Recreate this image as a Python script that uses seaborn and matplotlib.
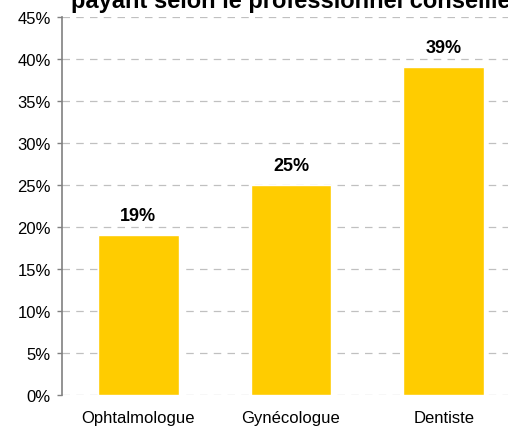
import matplotlib
matplotlib.use("Agg")
import matplotlib.pyplot as plt
import seaborn as sns
import pandas as pd
from matplotlib.ticker import FuncFormatter, MultipleLocator

categories = ["Ophtalmologue", "Gynécologue", "Dentiste"]
values = [19, 25, 39]
labels = ["19%", "25%", "39%"]
title = "payant selon le professionnel conseillé"

sns.set_theme(style="white")
plt.rcParams['font.family'] = ['Liberation Sans', 'DejaVu Sans']

df = pd.DataFrame({"cat": categories, "val": values})

fig = plt.figure(figsize=(5.08, 4.27), dpi=100)
W, H = 508, 427
ax = fig.add_axes([62 / W, 1 - 396 / H, 458 / W, (396 - 18) / H])

sns.barplot(data=df, x="cat", y="val", color="#FFCC00", width=0.53,
            saturation=1, ax=ax, zorder=3)
ax.set_xlim(-0.5, 2.5)
ax.set_ylim(0, 45)
ax.yaxis.set_major_locator(MultipleLocator(5))
ax.yaxis.set_major_formatter(FuncFormatter(lambda v, p: f"{v:.0f}%"))
ax.grid(axis="y", color="#C0C0C0", linestyle=(0, (6, 5)), linewidth=0.9, zorder=0)
for s in ["top", "right", "bottom"]:
    ax.spines[s].set_visible(False)
ax.spines["left"].set_color("#808080")
ax.spines["left"].set_linewidth(1.2)
ax.tick_params(axis="y", left=True, length=3.6, width=1, color="#808080",
               labelsize=12, labelcolor="black", pad=4.5)
ax.tick_params(axis="x", bottom=False, labelsize=12, labelcolor="black", pad=5)
ax.set_xlabel("")
ax.set_ylabel("")

for p, lab in zip(ax.patches, labels):
    ax.text(p.get_x() + p.get_width() / 2, p.get_height() + 1.3, lab,
            ha="center", va="bottom", fontsize=13, fontweight="bold", color="black")

fig.text(291 / W, 1 - 8 / H, title, ha="center", va="baseline",
         fontsize=17, fontweight="bold", color="black")

fig.savefig("out.png", dpi=100)
